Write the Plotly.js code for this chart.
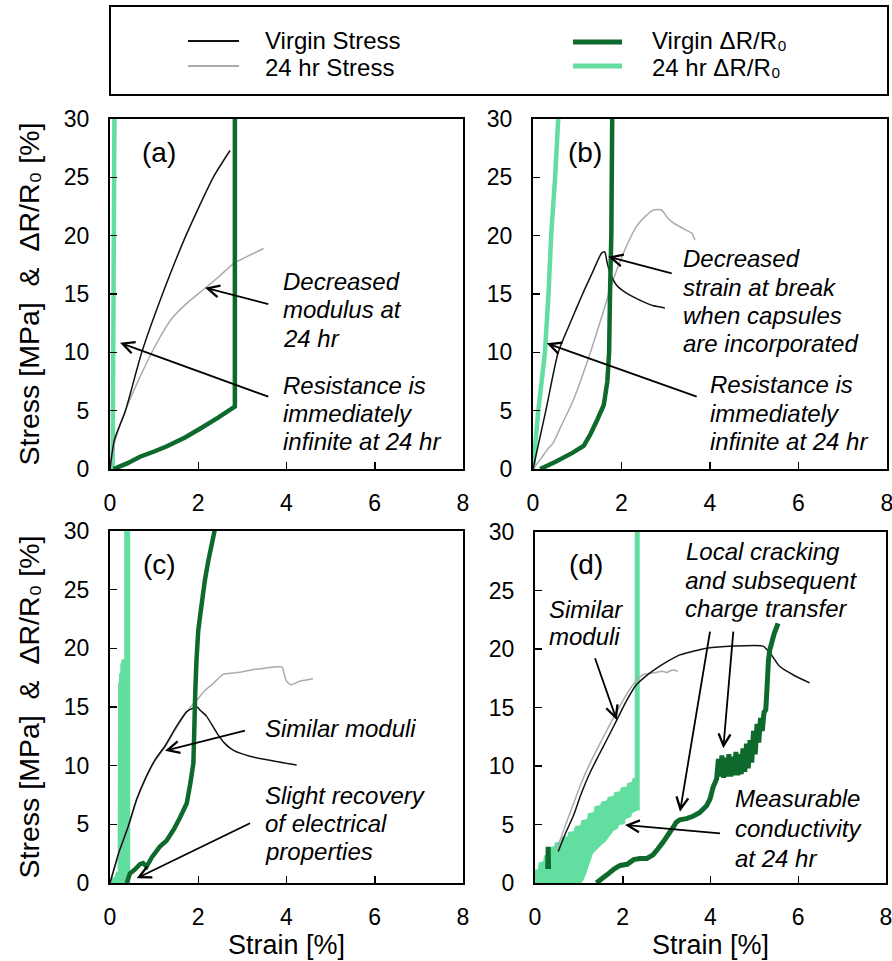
<!DOCTYPE html>
<html>
<head>
<meta charset="utf-8">
<script src="https://cdn.plot.ly/plotly-3.0.1.min.js"></script>
<style>html,body{margin:0;padding:0;background:#fff;}#chart{width:892px;height:961px;}</style>
</head>
<body>
<div id="chart"></div>
<script>
// ---------- DATA ----------
// Panel (a)
const a_virginStress_x = [0, 0.1, 0.35, 0.72, 1.19, 1.72, 2.34, 2.72];
const a_virginStress_y = [0, 2.5, 5, 10, 15, 20, 25, 27.3];
const a_24hStress_x = [0, 0.1, 0.38, 0.68, 1.06, 1.4, 1.74, 2.19, 2.5, 2.8, 3.1, 3.48];
const a_24hStress_y = [0, 2.2, 5.3, 7.9, 10.8, 12.9, 14.2, 15.6, 16.6, 17.6, 18.2, 18.9];
const a_virginDR_x = [0.08, 0.4, 0.68, 1.0, 1.29, 1.7, 2.04, 2.45, 2.83, 2.83];
const a_virginDR_y = [0, 0.5, 1.05, 1.5, 1.95, 2.7, 3.45, 4.4, 5.35, 30];
const a_24hDR_x = [0.06, 0.1];
const a_24hDR_y = [0, 30];

// Panel (b)
const b_virginStress_x = [0, 0.29, 0.57, 0.85, 1.12, 1.35, 1.55, 1.62, 1.68, 1.75, 1.9, 2.12, 2.4, 2.72, 2.85, 2.98];
const b_virginStress_y = [0, 5, 10, 12.6, 15, 16.9, 18.5, 18.6, 17.6, 16.7, 15.7, 15.05, 14.5, 14.0, 13.9, 13.8];
const b_24hStress_x = [0, 0.2, 0.35, 0.45, 0.65, 0.91, 1.29, 1.55, 1.81, 2.1, 2.34, 2.55, 2.72, 2.9, 3.05, 3.17, 3.4, 3.59, 3.66];
const b_24hStress_y = [0, 1, 1.8, 2.2, 3.8, 5.9, 9.9, 13, 16.2, 19, 20.8, 21.7, 22.2, 22.2, 21.5, 21.1, 20.6, 20.2, 19.6];
const b_virginDR_x = [0.16, 0.5, 0.9, 1.15, 1.3, 1.45, 1.6, 1.68, 1.72, 1.74, 1.77, 1.79];
const b_virginDR_y = [0, 0.6, 1.4, 2, 3, 4.2, 5.5, 7.5, 10, 15, 20, 30];
const b_24hDR_x = [0, 0.12, 0.27, 0.35, 0.41, 0.5, 0.57];
const b_24hDR_y = [0, 5, 10, 15, 20, 25, 30];

// Panel (c)
const c_virginStress_x = [0, 0.2, 0.42, 0.6, 0.8, 1.02, 1.25, 1.5, 1.74, 1.97, 2.05, 2.19, 2.42, 2.6, 2.8, 3.17, 3.7, 4.23];
const c_virginStress_y = [0, 2.6, 4.9, 7.1, 8.9, 10.5, 11.7, 13.3, 14.6, 15.0, 14.7, 14.2, 12.8, 11.9, 11.3, 10.8, 10.4, 10.05];
const c_24hStress_x = [0, 0.2, 0.42, 0.6, 0.8, 1.02, 1.25, 1.5, 1.74, 1.97, 2.15, 2.34, 2.57, 2.8, 3.0, 3.25, 3.5, 3.7, 3.9, 3.95, 4.0, 4.1, 4.3, 4.45, 4.6];
const c_24hStress_y = [0, 2.4, 4.8, 7.0, 8.8, 10.4, 11.6, 13.2, 14.6, 15.6, 16.4, 17.0, 17.8, 17.9, 18.0, 18.2, 18.3, 18.4, 18.4, 17.8, 17.2, 16.9, 17.2, 17.3, 17.4];
const c_virginDR_x = [0.38, 0.45, 0.55, 0.68, 0.75, 0.83, 0.95, 1.13, 1.28, 1.45, 1.59, 1.74, 1.82, 1.89, 1.91, 1.93, 1.96, 2.0, 2.05, 2.15, 2.23, 2.38];
const c_virginDR_y = [0, 0.8, 1.1, 1.6, 1.7, 1.4, 2.2, 3.1, 3.6, 4.6, 5.6, 6.8, 8.5, 10.2, 13, 16, 19, 21.5, 23, 25.8, 27.5, 30.2];
// 24 hr dR/R0 in (c): noisy burst (envelope) then open circuit
const c_24hDR_band_x = [0, 0.05, 0.1, 0.15, 0.19, 0.2, 0.22, 0.22, 0.25, 0.25, 0.27, 0.28, 0.34, 0.35, 0.38, 0.38];
const c_24hDR_band_y = [0, 0.5, 0.3, 0.9, 0.8, 17.0, 17.2, 17.8, 17.9, 18.6, 18.8, 19.0, 19.0, 1.0, 0.6, 0];
const c_24hDR_x = [0.39, 0.39];
const c_24hDR_y = [0, 30];

// Panel (d)
const d_virginStress_x = [0.53, 0.7, 0.87, 1.05, 1.25, 1.45, 1.63, 1.86, 2.09, 2.3, 2.5, 2.75, 3.0, 3.3, 3.6, 3.91, 4.52, 5.2, 5.3, 5.39, 5.58, 5.88, 6.26];
const d_virginStress_y = [2.7, 4.3, 5.7, 7.6, 9.4, 10.9, 12.2, 13.9, 15.6, 16.9, 17.6, 18.3, 18.9, 19.5, 19.8, 20.06, 20.25, 20.25, 19.9, 19.5, 18.5, 17.8, 17.1];
const d_24hStress_x = [0.5, 0.7, 0.87, 1.05, 1.25, 1.45, 1.63, 1.86, 2.1, 2.31, 2.46, 2.6, 2.76, 2.9, 3.0, 3.14, 3.25];
const d_24hStress_y = [2.9, 5.0, 6.7, 8.5, 10.2, 11.7, 13.0, 14.6, 16.2, 17.3, 17.8, 17.9, 18.0, 18.1, 18.0, 18.2, 18.1];
const d_virginDR_x = [0.29, 0.3, 0.31, null, 1.4, 1.5, 1.64, 1.8, 1.94, 2.1, 2.25, 2.39, 2.55, 2.69, 2.8, 2.92, 3.03, 3.14, 3.22, 3.3, 3.45, 3.6, 3.75, 3.91, 3.99, 4.06, 4.14, 4.18, 4.22, 4.26, 4.30, 4.34, 4.38, 4.42, 4.46, 4.50, 4.54, 4.58, 4.62, 4.66, 4.70, 4.74, 4.78, 4.82, 4.86, 4.90, 4.94, 4.98, 5.02, 5.06, 5.10, 5.14, 5.18, 5.22, 5.26, 5.29, 5.32, 5.35, 5.45, 5.54];
const d_virginDR_y = [1.2, 3.1, 1.2, null, 0, 0.3, 0.7, 1.2, 1.5, 1.6, 2.0, 2.1, 2.1, 2.4, 2.9, 3.5, 4.1, 4.7, 5.2, 5.4, 5.5, 5.7, 6.0, 6.6, 7.2, 8.2, 8.9, 10.6, 9.1, 10.9, 9.0, 10.7, 9.1, 11.0, 9.1, 10.8, 9.2, 11.2, 9.2, 11.0, 9.3, 11.5, 9.5, 11.9, 9.8, 12.2, 10.3, 13.0, 11.0, 13.6, 12.0, 14.1, 13.0, 14.6, 14.8, 16.8, 19.0, 19.9, 21.3, 22.2];
// 24 hr dR/R0 in (d): noisy conductive band (upper edge then lower edge) then open circuit
const d_24hDR_band_x = [0, 0, 0.08, 0.1, 0.2, 0.22, 0.32, 0.34, 0.45, 0.47, 0.6, 0.62, 0.75, 0.77, 0.9, 0.92, 1.05, 1.07, 1.2, 1.22, 1.35, 1.37, 1.5, 1.52, 1.65, 1.67, 1.8, 1.82, 1.95, 1.97, 2.1, 2.12, 2.22, 2.24, 2.35,
                        2.35, 2.3, 2.2, 2.18, 2.05, 2.03, 1.9, 1.88, 1.78, 1.7, 1.6, 1.5, 1.4, 1.3, 1.25, 1.2, 1.15, 1.08, 1.03];
const d_24hDR_band_y = [0, 1.1, 1.1, 1.7, 1.8, 2.3, 2.4, 3.0, 3.1, 3.4, 3.5, 3.9, 3.9, 4.3, 4.4, 4.8, 4.9, 5.3, 5.4, 5.9, 6.0, 6.5, 6.6, 6.9, 7.0, 7.3, 7.4, 7.7, 7.8, 8.1, 8.2, 8.5, 8.6, 8.9, 9.0,
                        6.4, 6.2, 6.0, 5.7, 5.5, 5.1, 5.0, 4.7, 4.5, 4.1, 3.6, 3.3, 2.9, 2.5, 1.9, 1.4, 0.8, 0.2, 0];
const d_24hDR_x = [2.33, 2.33];
const d_24hDR_y = [6.2, 30];

// Labels
const seriesNames = ['Virgin Stress', '24 hr Stress', 'Virgin \u0394R/R\u2080', '24 hr \u0394R/R\u2080'];
const panelLabels = ['(a)', '(b)', '(c)', '(d)'];
const xTickVals = [0, 2, 4, 6, 8];
const yTickVals = [0, 5, 10, 15, 20, 25, 30];
const xTitle = 'Strain [%]';
const yTitle = 'Stress [MPa]  &  \u0394R/R\u2080 [%]';

// ---------- STYLE ----------
const FONT = 'Liberation Sans, Arial, Helvetica, sans-serif';
const C_BLACK = '#111111';
const C_GRAY = '#ababab';
const C_DARK = '#0e6a2c';
const C_LIGHT = '#62dea0';

const panels = [
  {vs:[a_virginStress_x,a_virginStress_y], hs:[a_24hStress_x,a_24hStress_y], vd:[a_virginDR_x,a_virginDR_y], hd:[a_24hDR_x,a_24hDR_y], hdW:4.5, vdW:4.5},
  {vs:[b_virginStress_x,b_virginStress_y], hs:[b_24hStress_x,b_24hStress_y], vd:[b_virginDR_x,b_virginDR_y], hd:[b_24hDR_x,b_24hDR_y], hdW:4.5, vdW:4.5},
  {vs:[c_virginStress_x,c_virginStress_y], hs:[c_24hStress_x,c_24hStress_y], vd:[c_virginDR_x,c_virginDR_y], hd:[c_24hDR_x,c_24hDR_y], band:[c_24hDR_band_x,c_24hDR_band_y], hdW:6, vdW:4.5},
  {vs:[d_virginStress_x,d_virginStress_y], hs:[d_24hStress_x,d_24hStress_y], vd:[d_virginDR_x,d_virginDR_y], hd:[d_24hDR_x,d_24hDR_y], band:[d_24hDR_band_x,d_24hDR_band_y], hdW:5, vdW:5}
];

const traces = [];
panels.forEach((p, i) => {
  const xa = i === 0 ? 'x' : 'x' + (i + 1);
  const ya = i === 0 ? 'y' : 'y' + (i + 1);
  if (p.band) {
    traces.push({x:p.band[0], y:p.band[1], xaxis:xa, yaxis:ya, mode:'lines', fill:'toself', fillcolor:C_LIGHT, name:seriesNames[3], showlegend:false, line:{color:C_LIGHT, width:1.5, simplify:false}});
  }
  traces.push({x:p.hd[0], y:p.hd[1], xaxis:xa, yaxis:ya, mode:'lines', name:seriesNames[3], showlegend:false, line:{color:C_LIGHT, width:p.hdW, simplify:false}});
  traces.push({x:p.hs[0], y:p.hs[1], xaxis:xa, yaxis:ya, mode:'lines', name:seriesNames[1], showlegend:false, line:{color:C_GRAY, width:1.5, shape:'spline', smoothing:0.6, simplify:false}});
  traces.push({x:p.vs[0], y:p.vs[1], xaxis:xa, yaxis:ya, mode:'lines', name:seriesNames[0], showlegend:false, line:{color:C_BLACK, width:1.5, shape:'spline', smoothing:0.6, simplify:false}});
  traces.push({x:p.vd[0], y:p.vd[1], xaxis:xa, yaxis:ya, mode:'lines', name:seriesNames[2], showlegend:false, line:{color:C_DARK, width:p.vdW, simplify:false}});
});

const W = 892, H = 961;
const px = v => v / W;
const py = v => 1 - v / H;

function xAxis(domain, anchor, showTitle) {
  const ax = {
    domain: domain, anchor: anchor, range: [0, 8], tickvals: xTickVals,
    ticks: 'inside', ticklen: 7, tickwidth: 1.5, tickcolor: '#000',
    showline: true, linewidth: 2, linecolor: '#000', mirror: true,
    showgrid: false, zeroline: false, fixedrange: true, ticklabeloverflow: 'allow',
    tickfont: {family: FONT, size: 23, color: '#000'}, ticklabelstandoff: 12
  };
  if (showTitle) ax.title = {text: xTitle, font: {family: FONT, size: 27, color: '#000'}, standoff: 2};
  return ax;
}
function yAxis(domain, anchor, showTitle) {
  const ax = {
    domain: domain, anchor: anchor, range: [0, 30], tickvals: yTickVals,
    ticks: 'inside', ticklen: 7, tickwidth: 1.5, tickcolor: '#000',
    showline: true, linewidth: 2, linecolor: '#000', mirror: true,
    showgrid: false, zeroline: false, fixedrange: true, ticklabeloverflow: 'allow',
    tickfont: {family: FONT, size: 23, color: '#000'}, ticklabelstandoff: 14
  };
  if (showTitle) ax.title = {text: yTitle, font: {family: FONT, size: 28.5, color: '#000'}, standoff: 16};
  return ax;
}

// panel frames in page pixels (used to place text/arrows)
const PA = {xr:'x',  yr:'y',  x0:110, x1:463, yb:469, yt:119};
const PB = {xr:'x2', yr:'y2', x0:533, x1:887, yb:469, yt:119};
const PC = {xr:'x3', yr:'y3', x0:110, x1:463, yb:883, yt:531};
const PD = {xr:'x4', yr:'y4', x0:535, x1:886, yb:883, yt:532};
const toX = (p, v) => (v - p.x0) / (p.x1 - p.x0) * 8;
const toY = (p, v) => (p.yb - v) / (p.yb - p.yt) * 30;

const ann = [];
const TXT = {family: FONT, size: 24, color: '#000'};
const HALF = 13.4;   // half height of a 24px text line box
const ctx = document.createElement('canvas').getContext('2d');
ctx.font = 'italic 24px "Liberation Sans", Arial, sans-serif';
const textW = t => ctx.measureText(t).width;

function note(p, text, left, cy) {
  ann.push({xref:p.xr, yref:p.yr, x:toX(p, left), y:toY(p, cy), text:'<i>' + text + '</i>', showarrow:false,
    xanchor:'left', yanchor:'middle', borderpad:0, borderwidth:0, font:TXT});
}
// a text line that also carries an arrow; head and reference tail given in page px
function arrowNote(p, text, left, cy, hx, hy, tx, ty, mode, below) {
  const a = {xref:p.xr, yref:p.yr, axref:p.xr, ayref:p.yr, text:'<i>' + text + '</i>', showarrow:true,
    borderpad:0, borderwidth:0, font:TXT, x:toX(p, hx), y:toY(p, hy),
    arrowhead:5, arrowsize:1.3, arrowwidth:1.8, arrowcolor:'#000', standoff:0};
  const top = cy - HALF, bot = cy + HALF;
  let axp, ayp;
  if (mode === 'side') {
    axp = left;
    ayp = ty + (left - tx) * (ty - hy) / (tx - hx);
    a.xanchor = 'left';
    if (ayp > bot) { a.yanchor = 'bottom'; a.valign = 'top'; a.height = ayp - top; }
    else if (ayp < top) { a.yanchor = 'top'; a.valign = 'bottom'; a.height = bot - ayp; }
    else if (ayp <= cy) { a.yanchor = 'middle'; a.valign = 'bottom'; a.height = 2 * (bot - ayp); }
    else { a.yanchor = 'middle'; a.valign = 'top'; a.height = 2 * (ayp - top); }
  } else {
    ayp = below;
    axp = tx + (ayp - ty) * (tx - hx) / (ty - hy);
    a.yanchor = 'bottom'; a.valign = 'top'; a.height = ayp - top;
    a.xanchor = 'center';
    const w = textW(text);
    if (axp >= left + w / 2) { a.align = 'left'; a.width = 2 * (axp - left); }
    else { a.align = 'right'; a.width = 2 * (left + w - axp); }
  }
  a.ax = toX(p, axp); a.ay = toY(p, ayp);
  a.startstandoff = Math.hypot(tx - axp, ty - ayp);
  ann.push(a);
}

// panel labels
[[PA,159,152.7],[PB,585,152.7],[PC,159,564.3],[PD,585.7,564.3]].forEach((q, i) => {
  ann.push({xref:q[0].xr, yref:q[0].yr, x:toX(q[0], q[1]), y:toY(q[0], q[2]), text:panelLabels[i], showarrow:false,
    xanchor:'center', yanchor:'middle', font:{family:FONT, size:28, color:'#000'}});
});
// (a)
note(PA, 'Decreased', 283, 281.3);
arrowNote(PA, 'modulus at', 283, 310, 205, 287.7, 268.3, 304, 'side');
note(PA, '24 hr', 283, 338.3);
arrowNote(PA, 'Resistance is', 283, 385, 120, 342.7, 268.3, 396.7, 'side');
note(PA, 'immediately', 283, 413.3);
note(PA, 'infinite at 24 hr', 283, 441.7);
// (b)
note(PB, 'Decreased', 683, 258);
arrowNote(PB, 'strain at break', 683, 287.5, 608.3, 256.7, 671.7, 273.3, 'side');
note(PB, 'when capsules', 683, 315);
note(PB, 'are incorporated', 683, 343.3);
arrowNote(PB, 'Resistance is', 710, 385, 546.7, 343.3, 696.7, 396.7, 'side');
note(PB, 'immediately', 710, 413.3);
note(PB, 'infinite at 24 hr', 710, 441.7);
// (c)
arrowNote(PC, 'Similar moduli', 265, 728.3, 165, 750.7, 245, 730.7, 'side');
note(PC, 'Slight recovery', 265, 795);
arrowNote(PC, 'of electrical', 265, 823.3, 136.7, 878.3, 250, 823.3, 'side');
note(PC, 'properties', 265, 851.7);
// (d)
note(PD, 'Local cracking', 686, 551.7);
arrowNote(PD, 'and subsequent', 686, 580, 723.3, 748.3, 733.3, 631.7, 'below', 628);
arrowNote(PD, 'charge transfer', 686, 608.3, 680, 811.7, 710, 631.7, 'below', 608.3 + HALF);
note(PD, 'Similar', 549.3, 609.3);
arrowNote(PD, 'moduli', 549.3, 636.7, 616.7, 720, 595, 658.3, 'below', 636.7 + HALF);
note(PD, 'Measurable', 735, 798.3);
arrowNote(PD, 'conductivity', 735, 828.3, 625, 825, 720, 833.3, 'side');
note(PD, 'at 24 hr', 735, 858.3);

// legend (drawn as shapes + text)
const shapes = [
  {type:'rect', xref:'paper', yref:'paper', x0:px(110), x1:px(888), y0:py(95), y1:py(6), line:{color:'#000', width:2}, fillcolor:'rgba(0,0,0,0)'},
  {type:'line', xref:'paper', yref:'paper', x0:px(188), x1:px(239), y0:py(41), y1:py(41), line:{color:C_BLACK, width:1.8}},
  {type:'line', xref:'paper', yref:'paper', x0:px(188), x1:px(239), y0:py(66), y1:py(66), line:{color:C_GRAY, width:1.8}},
  {type:'line', xref:'paper', yref:'paper', x0:px(573), x1:px(622), y0:py(42), y1:py(42), line:{color:C_DARK, width:5}},
  {type:'line', xref:'paper', yref:'paper', x0:px(573), x1:px(622), y0:py(66), y1:py(66), line:{color:C_LIGHT, width:5}}
];
[[263,41,0],[263,67,1],[650,41,2],[650,67,3]].forEach(l => {
  ann.push({xref:'paper', yref:'paper', x:px(l[0]), y:py(l[1]), text:seriesNames[l[2]], showarrow:false, xanchor:'left', yanchor:'middle', font:{family:FONT, size:24, color:'#000'}});
});

const layout = {
  width: W, height: H, margin: {l:0, r:0, t:0, b:0, pad:0},
  paper_bgcolor: '#fff', plot_bgcolor: '#fff', showlegend: false,
  font: {family: FONT, color: '#000'},
  xaxis: xAxis([px(PA.x0), px(PA.x1)], 'y', false),  yaxis: yAxis([py(PA.yb), py(PA.yt)], 'x', true),
  xaxis2: xAxis([px(PB.x0), px(PB.x1)], 'y2', false), yaxis2: yAxis([py(PB.yb), py(PB.yt)], 'x2', false),
  xaxis3: xAxis([px(PC.x0), px(PC.x1)], 'y3', true),  yaxis3: yAxis([py(PC.yb), py(PC.yt)], 'x3', true),
  xaxis4: xAxis([px(PD.x0), px(PD.x1)], 'y4', true),  yaxis4: yAxis([py(PD.yb), py(PD.yt)], 'x4', false),
  annotations: ann, shapes: shapes
};

Plotly.newPlot('chart', traces, layout, {displayModeBar: false, staticPlot: true}).then(gd => {
  // drop the empty placeholder title elements Plotly leaves for untitled axes / plot title
  gd.querySelectorAll('text').forEach(t => { if (!t.textContent.trim()) t.remove(); });
});
</script>
</body>
</html>
